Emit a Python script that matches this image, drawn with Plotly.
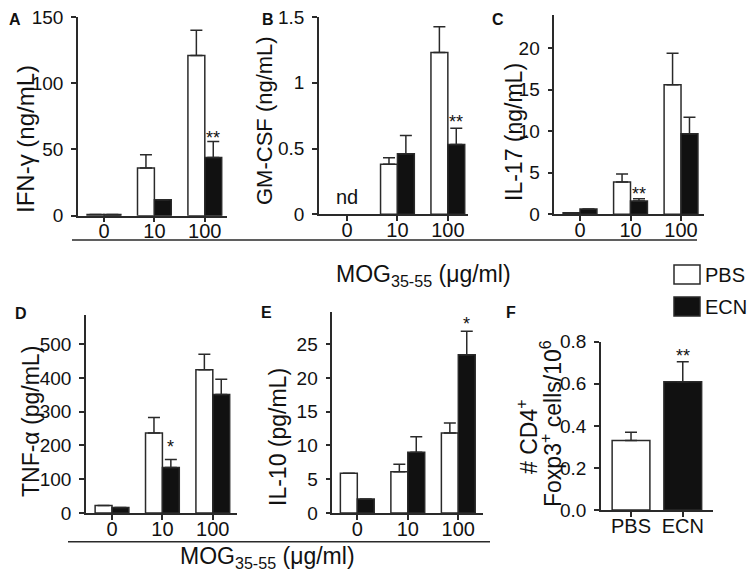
import plotly.graph_objects as go

# the page body keeps its default 8 px margin, so the figure is drawn 8 px in
W, H = 747, 567
OFF = 8

doses = ['0', '10', '100']

# A: IFN-gamma (ng/mL)
ifn_pbs = [1, 36, 121]
ifn_pbs_sem = [0, 10, 19]
ifn_ecn = [1, 12, 44]
ifn_ecn_sem = [0, 0, 12]

# B: GM-CSF (ng/mL), not detected at 0
gm_pbs = [None, 0.38, 1.23]
gm_pbs_sem = [0, 0.05, 0.195]
gm_ecn = [None, 0.46, 0.53]
gm_ecn_sem = [0, 0.14, 0.125]

# C: IL-17 (ng/mL)
il17_pbs = [0.2, 3.9, 15.6]
il17_pbs_sem = [0, 0.95, 3.8]
il17_ecn = [0.64, 1.6, 9.7]
il17_ecn_sem = [0, 0.27, 2.0]

# D: TNF-alpha (pg/mL)
tnf_pbs = [22, 237, 424]
tnf_pbs_sem = [0, 46, 46]
tnf_ecn = [16, 135, 351]
tnf_ecn_sem = [0, 23, 45]

# E: IL-10 (pg/mL)
il10_pbs = [5.9, 6.1, 11.85]
il10_pbs_sem = [0, 1.1, 1.45]
il10_ecn = [2.07, 9.0, 23.4]
il10_ecn_sem = [0, 2.3, 3.5]

# F: CD4+ Foxp3+ cells / 10^6
groups = ['PBS', 'ECN']
treg = [0.33, 0.61]
treg_sem = [0.04, 0.095]

# significance marks: (panel, dose, y, text)
stars = [
    (1, '100', 62, '**'),
    (2, '100', 0.73, '**'),
    (3, '10', 2.9, '**'),
    (4, '10', 207, '*'),
    (5, '100', 28.5, '*'),
]

FONT = 'Liberation Sans, Arial, sans-serif'
LINE = '#2a2a2a'


def px(x):
    return (x - OFF) / W


def py(y):
    return 1 - (y - OFF) / H


# panel geometry in window pixels: x-left, x-right, y-top, y-bottom, y range, x range
panels = {
    1: dict(x=(78, 227), y=(17, 215.7), yr=[0, 150], xr=[-0.515, 2.44], dt=50),
    2: dict(x=(319, 468), y=(17, 214.3), yr=[0, 1.5], xr=[-0.556, 2.40], dt=0.5),
    3: dict(x=(554.3, 704), y=(15, 214.3), yr=[0, 24], xr=[-0.509, 2.455], dt=5),
    4: dict(x=(86, 237), y=(315, 513), yr=[0, 586], xr=[-0.516, 2.48], dt=100),
    5: dict(x=(332.3, 483.3), y=(312.3, 513), yr=[0, 29.7], xr=[-0.495, 2.495], dt=5),
    6: dict(x=(601, 713.3), y=(341.7, 510), yr=[0, 0.8], xr=[-0.58, 1.59], dt=0.2),
}

fig = go.Figure()


def add_pair(n, pbs, pbs_sem, ecn, ecn_sem):
    xa = 'x' if n == 1 else 'x%d' % n
    ya = 'y' if n == 1 else 'y%d' % n
    for vals, sem, fill, off in [(pbs, pbs_sem, 'white', -0.335), (ecn, ecn_sem, '#111111', 0.0)]:
        fig.add_trace(go.Bar(
            x=doses, y=vals, xaxis=xa, yaxis=ya,
            width=0.335, offset=off,
            marker=dict(color=fill, line=dict(color=LINE, width=1.5)),
            error_y=dict(type='data', symmetric=False, array=sem,
                         arrayminus=[0] * len(sem), color=LINE,
                         thickness=1.5, width=6),
            showlegend=False, hoverinfo='skip'))


add_pair(1, ifn_pbs, ifn_pbs_sem, ifn_ecn, ifn_ecn_sem)
add_pair(2, gm_pbs, gm_pbs_sem, gm_ecn, gm_ecn_sem)
add_pair(3, il17_pbs, il17_pbs_sem, il17_ecn, il17_ecn_sem)
add_pair(4, tnf_pbs, tnf_pbs_sem, tnf_ecn, tnf_ecn_sem)
add_pair(5, il10_pbs, il10_pbs_sem, il10_ecn, il10_ecn_sem)

fig.add_trace(go.Bar(
    x=groups, y=treg, xaxis='x6', yaxis='y6', width=0.73,
    marker=dict(color=['white', '#111111'], line=dict(color=LINE, width=1.5)),
    error_y=dict(type='data', symmetric=False, array=treg_sem,
                 arrayminus=[0, 0], color=LINE, thickness=1.5, width=6),
    showlegend=False, hoverinfo='skip'))

layout = dict(
    width=W, height=H,
    margin=dict(l=0, r=0, t=0, b=0, pad=0, autoexpand=False),
    paper_bgcolor='white', plot_bgcolor='white',
    font=dict(family=FONT, color='#111111'),
    showlegend=False,
)
for n, p in panels.items():
    sfx = '' if n == 1 else str(n)
    ticks = []
    v = 0
    while v <= p['yr'][1] + 1e-9:
        ticks.append(round(v, 3))
        v += p['dt']
    if n == 6:
        labels = ['%.1f' % t for t in ticks]
    elif n == 2:
        labels = ['0', '0.5', '1', '1.5']
    else:
        labels = [str(int(t)) for t in ticks]
    layout['xaxis' + sfx] = dict(
        domain=[px(p['x'][0]), px(p['x'][1])], anchor='y' + sfx,
        type='category', range=p['xr'], showline=True, linecolor=LINE,
        linewidth=1.5, ticks='outside', ticklen=5, tickwidth=1.5,
        tickcolor=LINE, showgrid=False, zeroline=False, automargin=False,
        ticklabelstandoff=-8, ticklabeloverflow='allow',
        tickfont=dict(size=20, color='#111111'), fixedrange=True)
    layout['yaxis' + sfx] = dict(
        domain=[py(p['y'][1]), py(p['y'][0])], anchor='x' + sfx,
        range=p['yr'], showline=True, linecolor=LINE, linewidth=1.5,
        ticks='outside', ticklen=5, tickwidth=1.5, tickcolor=LINE,
        tickvals=ticks, ticktext=labels, ticklabelstandoff=4,
        ticklabeloverflow='allow',
        showgrid=False, zeroline=False, automargin=False,
        tickfont=dict(size=19, color='#111111'), fixedrange=True)
fig.update_layout(**layout)

ann = []


def text(x, y, s, size, angle=0, bold=False, xanchor='center'):
    if bold:
        s = '<b>%s</b>' % s
    ann.append(dict(x=px(x), y=py(y), xref='paper', yref='paper', text=s,
                    showarrow=False, textangle=angle, xanchor=xanchor,
                    yanchor='middle', font=dict(size=size, color='#111111')))


# panel letters
for letter, x, y in [('A', 15, 19), ('B', 268, 19), ('C', 498, 19),
                     ('D', 21, 313), ('E', 266, 312), ('F', 511, 312)]:
    text(x, y, letter, 16, bold=True)

# y-axis titles
text(25, 139, 'IFN-γ (ng/mL)', 24, angle=-90)
text(265, 121, 'GM-CSF (ng/mL)', 22, angle=-90)
text(514, 132, 'IL-17 (ng/mL)', 23, angle=-90)
text(31, 422, 'TNF-α (pg/mL)', 23, angle=-90)
text(278, 437, 'IL-10 (pg/mL)', 23, angle=-90)
text(527, 437, '# CD4<sup>+</sup>', 23, angle=-90)
text(551, 424, 'Foxp3<sup>+</sup> cells/10<sup>6</sup>', 23, angle=-90)

# shared x titles
text(423, 275, 'MOG<sub>35-55</sub> (μg/ml)', 23)
text(267, 557, 'MOG<sub>35-55</sub> (μg/ml)', 23)

# nd marker in GM-CSF panel
ann.append(dict(x=doses.index('0'), y=0.13, xref='x2', yref='y2', text='nd',
                showarrow=False, font=dict(size=20, color='#111111')))

# significance stars above ECN bars
for n, d, y, s in stars:
    ann.append(dict(x=doses.index(d), y=y, xref='x%d' % n if n > 1 else 'x',
                    yref='y%d' % n if n > 1 else 'y', text=s, showarrow=False,
                    xshift=8.5, yshift=-4, font=dict(size=18, color='#111111')))
ann.append(dict(x=groups.index('ECN'), y=0.75, xref='x6', yref='y6', text='**',
                showarrow=False, yshift=-4, font=dict(size=18, color='#111111')))

# legend text
text(703, 275, 'PBS', 20, xanchor='left')
text(703, 307, 'ECN', 20, xanchor='left')

fig.update_layout(annotations=ann)

shapes = [
    # separator lines under the dose ticks
    dict(type='line', xref='paper', yref='paper', x0=px(72), x1=px(697),
         y0=py(240), y1=py(240), line=dict(color=LINE, width=1.5)),
    dict(type='line', xref='paper', yref='paper', x0=px(68), x1=px(490),
         y0=py(541.7), y1=py(541.7), line=dict(color=LINE, width=1.5)),
    # legend boxes
    dict(type='rect', xref='paper', yref='paper', x0=px(674), x1=px(700),
         y0=py(284), y1=py(265), fillcolor='white', line=dict(color=LINE, width=1.5)),
    dict(type='rect', xref='paper', yref='paper', x0=px(674), x1=px(700),
         y0=py(316), y1=py(297), fillcolor='#111111', line=dict(color=LINE, width=1.5)),
]
fig.update_layout(shapes=shapes)

fig.write_html("out.html")
